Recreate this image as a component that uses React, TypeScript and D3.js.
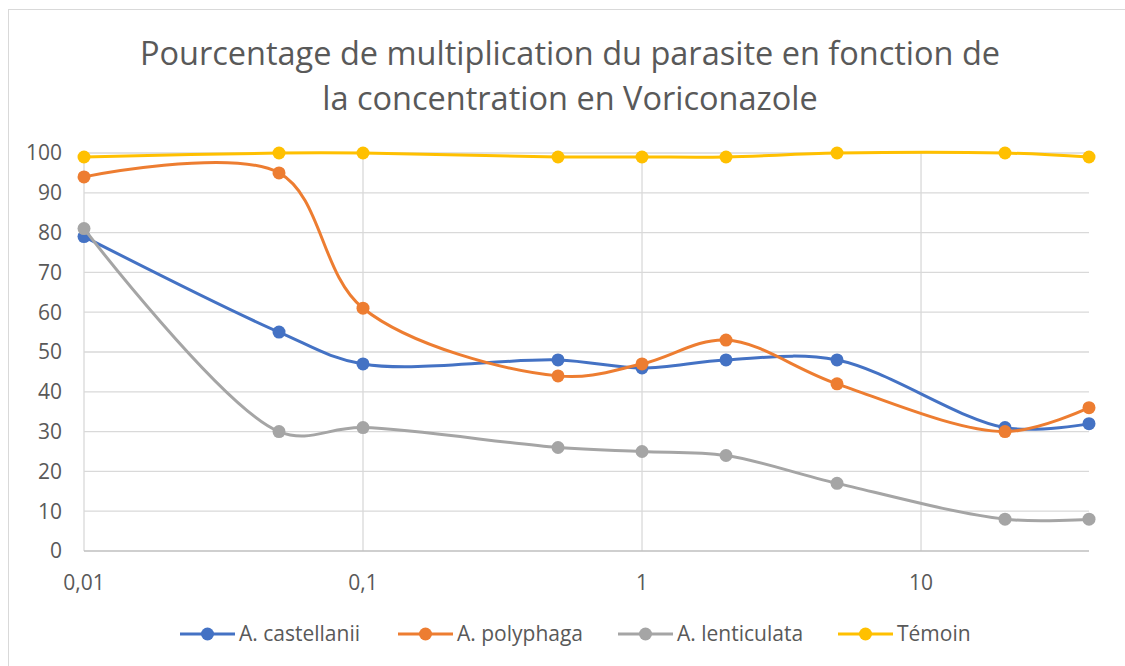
import React from 'react';
import * as d3 from 'd3';

// concentrations en Voriconazole (axe log)
const concentrations = [0.01, 0.05, 0.1, 0.5, 1, 2, 5, 20, 40];

const castellanii = [79, 55, 47, 48, 46, 48, 48, 31, 32];
const polyphaga = [94, 95, 61, 44, 47, 53, 42, 30, 36];
const lenticulata = [81, 30, 31, 26, 25, 24, 17, 8, 8];
const temoin = [99, 100, 100, 99, 99, 99, 100, 100, 99];

const seriesNames = ['A. castellanii', 'A. polyphaga', 'A. lenticulata', 'Témoin'];
const seriesColors = ['#4472C4', '#ED7D31', '#A5A5A5', '#FFC000'];
const yTicks = [0, 10, 20, 30, 40, 50, 60, 70, 80, 90, 100];
const xTicks = [0.01, 0.1, 1, 10];
const titleLines = [
  'Pourcentage de multiplication du parasite en fonction de',
  'la concentration en Voriconazole',
];

const W = 1125;
const H = 666;
const font = "'Open Sans', 'Noto Sans', sans-serif";

export default function App() {
  const allSeries = [castellanii, polyphaga, lenticulata, temoin];

  const x = d3.scaleLog().domain([0.01, 40]).range([84, 1089]);
  const y = d3.scaleLinear().domain([0, 100]).range([551, 153]);

  const line = d3
    .line<number>()
    .x((_, i) => x(concentrations[i]))
    .y((d) => y(d))
    .curve(d3.curveCatmullRom.alpha(0.5));

  const fmt = (v: number) => String(v).replace('.', ',');

  const legendX = [180, 398, 618, 838];

  return (
    <div style={{ position: 'absolute', left: 0, top: 0 }}>
      <svg width={W} height={H} style={{ display: 'block', background: '#fff' }}>
        <rect x={8.5} y={9.5} width={W + 20} height={H + 20} fill="#fff" stroke="#d9d9d9" />

        {titleLines.map((t, i) => (
          <text
            key={i}
            x={570}
            y={65 + i * 45}
            textAnchor="middle"
            fontFamily={font}
            fontSize={32.5}
            fill="#595959"
          >
            {t}
          </text>
        ))}

        {/* grille */}
        {yTicks.slice(1).map((t) => (
          <line key={t} x1={84} x2={1089} y1={y(t)} y2={y(t)} stroke="#d9d9d9" strokeWidth={1.3} />
        ))}
        {xTicks.map((t) => (
          <line key={t} x1={x(t)} x2={x(t)} y1={y(100)} y2={y(0)} stroke="#d9d9d9" strokeWidth={1.3} />
        ))}
        <line x1={84} x2={1089} y1={y(0)} y2={y(0)} stroke="#bfbfbf" strokeWidth={1.3} />

        {yTicks.map((t) => (
          <text
            key={t}
            x={62}
            y={y(t)}
            dy="0.35em"
            textAnchor="end"
            fontFamily={font}
            fontSize={21}
            fill="#595959"
          >
            {t}
          </text>
        ))}
        {xTicks.map((t) => (
          <text
            key={t}
            x={x(t)}
            y={583}
            dy="0.35em"
            textAnchor="middle"
            fontFamily={font}
            fontSize={21}
            fill="#595959"
          >
            {fmt(t)}
          </text>
        ))}

        {allSeries.map((s, si) => (
          <g key={si}>
            <path d={line(s) || ''} fill="none" stroke={seriesColors[si]} strokeWidth={3} />
            {s.map((v, i) => (
              <circle key={i} cx={x(concentrations[i])} cy={y(v)} r={6.5} fill={seriesColors[si]} />
            ))}
          </g>
        ))}

        {/* légende */}
        {seriesNames.map((n, i) => (
          <g key={n} transform={`translate(${legendX[i]},634)`}>
            <line x1={0} x2={55} y1={0} y2={0} stroke={seriesColors[i]} strokeWidth={3} />
            <circle cx={27.5} cy={0} r={6.5} fill={seriesColors[i]} />
            <text x={59} y={0} dy="0.35em" fontFamily={font} fontSize={21} fill="#595959">
              {n}
            </text>
          </g>
        ))}
      </svg>
    </div>
  );
}
